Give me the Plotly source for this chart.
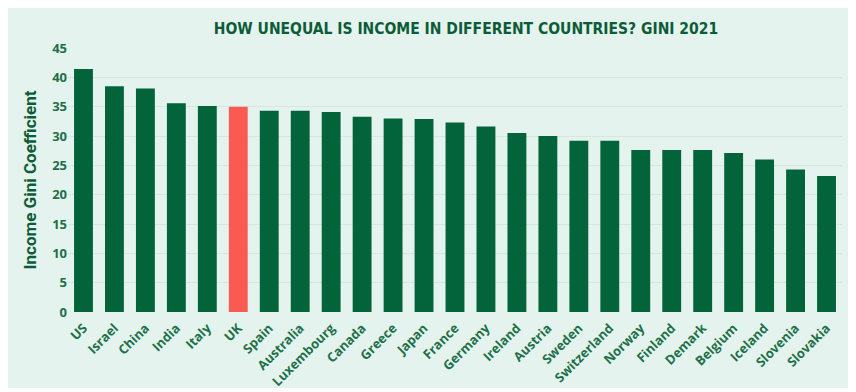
import plotly.graph_objects as go

countries = ["US", "Israel", "China", "India", "Italy", "UK", "Spain", "Australia",
             "Luxembourg", "Canada", "Greece", "Japan", "France", "Germany", "Ireland",
             "Austria", "Sweden", "Switzerland", "Norway", "Finland", "Demark",
             "Belgium", "Iceland", "Slovenia", "Slovakia"]
gini = [41.4, 38.5, 38.1, 35.6, 35.1, 35.0, 34.3, 34.3, 34.1, 33.3, 33.0, 32.9,
        32.3, 31.6, 30.5, 30.0, 29.2, 29.2, 27.6, 27.6, 27.6, 27.1, 26.0, 24.3, 23.2]
highlight = "UK"
y_ticks = [0, 5, 10, 15, 20, 25, 30, 35, 40, 45]

GREEN = "#03643b"
RED = "#f95b52"
BG = "#e4f3ed"
TEXT = "#1d7049"

colors = [RED if c == highlight else GREEN for c in countries]

fig = go.Figure(go.Bar(
    x=countries, y=gini, marker_color=colors,
    marker_line_width=0, width=0.61,
))

# page body has an 8px margin, so the figure is 848x384 at offset (8, 8)
W, H = 848, 384
L, R, T, B = 60, 14, 40, 80
pw, ph = W - L - R, H - T - B

fig.add_shape(type="rect", xref="paper", yref="paper", layer="below",
              x0=(-3 - L) / pw, x1=(844 - L) / pw,
              y0=(H - B - 380) / ph, y1=(H - B + 5) / ph,
              fillcolor=BG, line_width=0)

fig.update_layout(
    width=W, height=H,
    margin=dict(l=L, r=R, t=T, b=B, autoexpand=False),
    paper_bgcolor="white",
    plot_bgcolor="rgba(0,0,0,0)",
    showlegend=False,
    title=dict(text="<b>HOW UNEQUAL IS INCOME IN DIFFERENT COUNTRIES? GINI 2021</b>",
               x=458 / W, xanchor="center", y=1 - 21 / H, yanchor="middle",
               font=dict(family="DejaVu Sans Condensed", size=15.5, color="#0b5c37")),
    xaxis=dict(tickangle=-45, ticklabelstandoff=5,
               tickfont=dict(family="Open Sans", size=13, color=TEXT, weight="bold"),
               showgrid=False, ticks="", showline=False, range=[-0.5, len(countries) - 0.5]),
    yaxis=dict(range=[0, 45], tickvals=y_ticks, showline=False, zeroline=False,
               gridcolor="#d3e9df", gridwidth=1,
               tickfont=dict(family="Open Sans", size=13, color=TEXT, weight="bold"),
               title=dict(text="Income Gini Coefficient", standoff=11,
                          font=dict(family="Roboto", size=17, color="#0b5c37", weight="bold"))),
    bargap=0.39,
)

fig.write_html("out.html")
